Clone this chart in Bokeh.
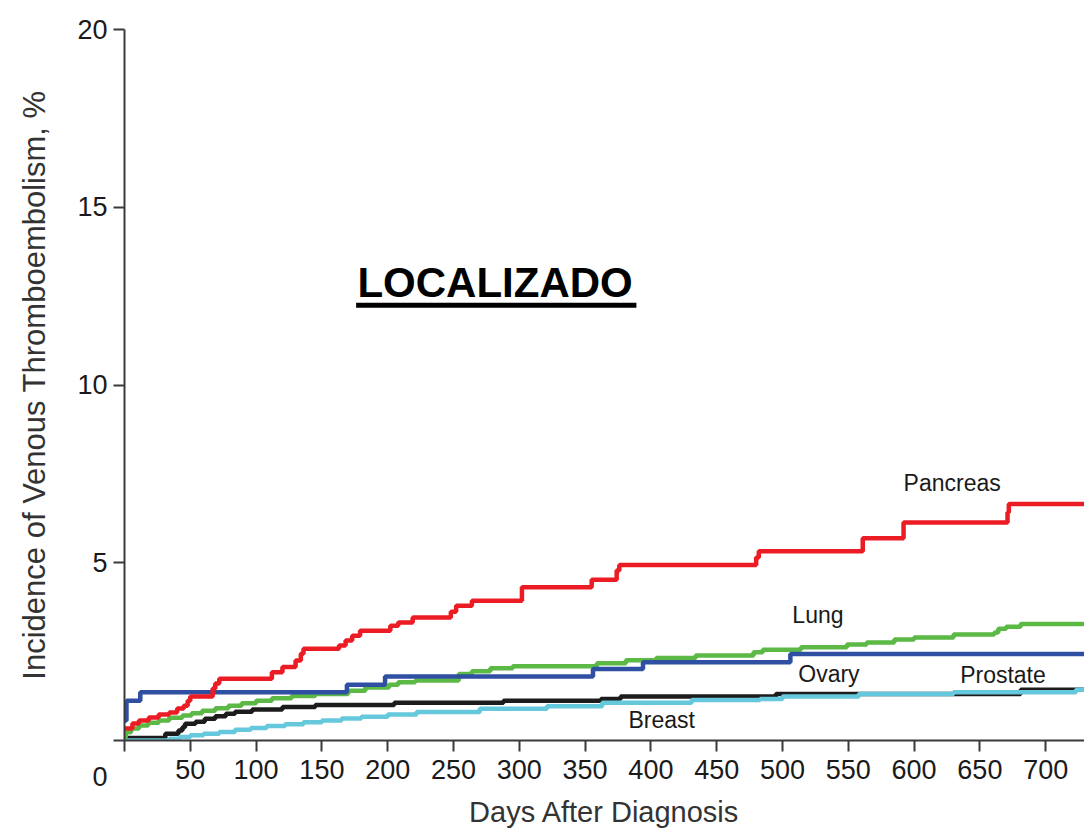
from bokeh.plotting import figure
from bokeh.models import Range1d, FixedTicker, Label
from bokeh.embed import file_html
from bokeh.resources import INLINE

# ---- data ----
pancreas_days = [0, 6, 11, 18.5, 26, 34, 40, 45, 48, 50, 67, 69, 72, 112, 120, 130, 134, 136,
                 163, 168, 173, 179, 202, 208, 219, 248, 252, 264, 302, 355, 374, 376, 480, 482,
                 561, 592, 671, 672]
pancreas_vals = [0.34, 0.48, 0.56, 0.65, 0.73, 0.79, 0.90, 0.98, 1.12, 1.24, 1.46, 1.60, 1.74, 1.92,
                 2.07, 2.25, 2.44, 2.58, 2.67, 2.81, 2.95, 3.09, 3.23, 3.32, 3.46, 3.62, 3.79, 3.93,
                 4.31, 4.52, 4.78, 4.94, 5.15, 5.32, 5.69, 6.13, 6.41, 6.65]

lung_days = [0, 1, 5, 11, 18, 26, 34, 44, 51, 59, 69, 79, 89, 100, 112, 127, 145, 170, 183, 201,
             208, 221, 254, 264, 278, 295, 359, 381, 404, 434, 478, 485, 514, 549, 564, 585, 600,
             630, 661, 664, 670, 681]
lung_vals = [0.09, 0.23, 0.34, 0.42, 0.50, 0.56, 0.64, 0.70, 0.77, 0.84, 0.91, 0.98, 1.05, 1.12,
             1.19, 1.25, 1.31, 1.40, 1.49, 1.57, 1.64, 1.69, 1.87, 1.95, 2.03, 2.09, 2.17, 2.26,
             2.32, 2.39, 2.48, 2.55, 2.62, 2.70, 2.76, 2.84, 2.90, 2.98, 3.04, 3.14, 3.20, 3.28]

ovary_days = [0, 1.5, 12, 169, 198, 356, 394, 506]
ovary_vals = [0.56, 1.12, 1.36, 1.57, 1.80, 2.01, 2.20, 2.43]

prostate_days = [0, 31, 41, 44, 46, 54, 61, 69, 77, 84, 97, 120, 145, 205, 288, 362, 377, 495, 681]
prostate_vals = [0.07, 0.19, 0.28, 0.37, 0.47, 0.53, 0.61, 0.68, 0.75, 0.81, 0.87, 0.94, 1.00,
                 1.06, 1.12, 1.17, 1.24, 1.31, 1.43]

breast_days = [0, 34, 42, 50, 60, 72, 84, 96, 108, 122, 136, 150, 165, 180, 200, 222, 270, 321,
               363, 431, 483, 500, 558, 630, 723]
breast_vals = [0.0, 0.05, 0.10, 0.15, 0.19, 0.24, 0.30, 0.35, 0.41, 0.46, 0.51, 0.56, 0.62, 0.67,
               0.73, 0.80, 0.89, 0.96, 1.06, 1.14, 1.17, 1.24, 1.31, 1.36, 1.43]

x_ticks = [0, 50, 100, 150, 200, 250, 300, 350, 400, 450, 500, 550, 600, 650, 700]
y_ticks = [0, 5, 10, 15, 20]

X_END = 729.5

SANS = "Liberation Sans"

p = figure(width=1084, height=836, output_backend="svg", toolbar_location=None,
           x_range=Range1d(0, X_END), y_range=Range1d(0, 20),
           min_border_left=124, min_border_right=0, min_border_top=29, min_border_bottom=96)
p.outline_line_color = None
p.grid.visible = False
p.background_fill_color = "white"
p.border_fill_color = "white"

for ax in (p.xaxis[0], p.yaxis[0]):
    ax.axis_line_color = "#3a3a3a"
    ax.axis_line_width = 2
    ax.major_tick_line_color = "#3a3a3a"
    ax.major_tick_line_width = 2
    ax.major_tick_out = 11
    ax.major_tick_in = 0
    ax.minor_tick_line_color = None
    ax.major_label_text_font = SANS
    ax.major_label_text_font_size = "27px"
    ax.major_label_text_color = "#1a1a1a"
    ax.axis_label_text_font = SANS
    ax.axis_label_text_font_style = "normal"
    ax.axis_label_text_color = "#333333"

p.xaxis.ticker = FixedTicker(ticks=x_ticks)
p.yaxis.ticker = FixedTicker(ticks=y_ticks)
# the shared origin "0" sits left of and below the axes corner, as in the original
p.xaxis.major_label_overrides = {0: ""}
p.yaxis.major_label_overrides = {0: "\n\n0"}
p.xaxis.major_label_standoff = 8
p.yaxis.major_label_standoff = 6
p.xaxis.axis_label = "Days After Diagnosis"
p.xaxis.axis_label_text_font_size = "29px"
p.xaxis.axis_label_standoff = 14
p.yaxis.axis_label = "Incidence of Venous Thromboembolism, %"
p.yaxis.axis_label_text_font_size = "31px"
p.yaxis.axis_label_standoff = 22

series = [
    (prostate_days, prostate_vals, "#1c1c1c"),
    (breast_days, breast_vals, "#66c8dc"),
    (lung_days, lung_vals, "#5cb946"),
    (ovary_days, ovary_vals, "#2f4fa3"),
    (pancreas_days, pancreas_vals, "#ec1c24"),
]
for d, v, c in series:
    xs = list(d) + [X_END]
    ys = list(v) + [v[-1]]
    p.step(xs, ys, mode="after", line_color=c, line_width=4.5)

lab_style = dict(text_font=SANS, text_font_size="23px", text_color="#1a1a1a",
                 text_align="left", text_baseline="middle")
for txt, lx, ly in [("Pancreas", 592, 7.23), ("Lung", 507.5, 3.52), ("Ovary", 512, 1.87),
                    ("Prostate", 635, 1.84), ("Breast", 383, 0.58)]:
    p.add_layout(Label(x=lx, y=ly, text=txt, **lab_style))

# title with underline
p.add_layout(Label(x=177, y=12.87, text="LOCALIZADO", text_font=SANS, text_font_size="42px",
                   text_font_style="bold", text_color="black", text_align="left",
                   text_baseline="middle"))
p.segment(x0=[176], y0=[12.24], x1=[389], y1=[12.24], line_color="black", line_width=5)

open("out.html", "w").write(file_html(p, INLINE))
